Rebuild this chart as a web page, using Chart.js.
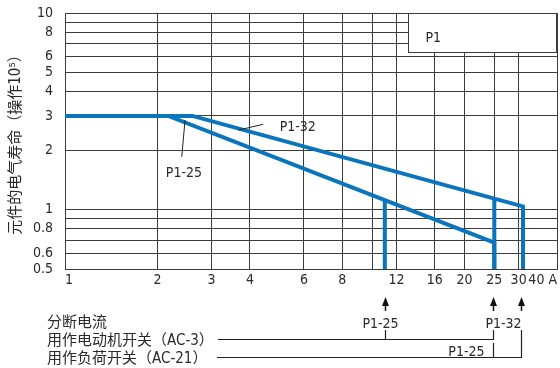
<!DOCTYPE html>
<html>
<head>
<meta charset="utf-8">
<script src="https://cdn.jsdelivr.net/npm/chart.js@4.4.1/dist/chart.umd.min.js"></script>
<style>
  html, body { margin: 0; padding: 0; background: #fff; }
</style>
</head>
<body>
<canvas id="myChart" width="560" height="368"></canvas>
<script>
// axis ticks (log scales)
var xTicks = [1, 2, 3, 4, 6, 8, 10, 12, 16, 20, 25, 30, 40];
var xLabels = ['1', '2', '3', '4', '6', '8', '', '12', '16', '20', '25', '30', '40 A'];
var yTicks = [0.5, 0.6, 0.7, 0.8, 0.9, 1, 2, 3, 4, 5, 6, 7, 8, 9, 10];
var yLabels = ['0.5', '0.6', '', '0.8', '', '1', '2', '3', '4', '5', '6', '', '8', '', '10'];

// current (A) vs electrical life (x10^5 operations)
var p132Current = [1, 2.6, 25, 31, 31];
var p132Life = [3, 3, 1.14, 1.04, 0.5];
var p125Current = [1, 2.17, 11, 25, 25];
var p125Life = [3, 3, 1.12, 0.68, 0.5];
var p125Ac3Current = [11, 11];
var p125Ac3Life = [1.12, 0.5];
var p132Ac3Current = [25, 25];
var p132Ac3Life = [1.14, 0.5];

var
	blue = "#0a74bd",
	gridColor = "#3c3c3c",
	textColor = "#2a2a2a",
	narrow = "'DejaVu Sans Condensed', 'Noto Sans CJK SC', sans-serif";

function pts(xs, ys) {
	return xs.map(function(v, i) { return {x: v, y: ys[i]}; });
}

function lineSet(xs, ys) {
	return {
		data: pts(xs, ys),
		borderColor: blue,
		borderWidth: 4,
		pointRadius: 0,
		borderJoinStyle: 'miter',
		borderCapStyle: 'butt',
		tension: 0,
		fill: false
	};
}

function arrowUp(ctx, px, tip, tail) {
	ctx.beginPath();
	ctx.moveTo(px, tail);
	ctx.lineTo(px, tip + 6);
	ctx.stroke();
	ctx.beginPath();
	ctx.moveTo(px, tip);
	ctx.lineTo(px - 3.5, tip + 9);
	ctx.lineTo(px + 3.5, tip + 9);
	ctx.closePath();
	ctx.fill();
}

var notes = {
	id: 'notes',
	afterDraw: function(chart) {
		var ctx = chart.ctx, sx = chart.scales.x, sy = chart.scales.y, a = chart.chartArea;
		var X = function(v) { return sx.getPixelForValue(v); };
		var Y = function(v) { return sy.getPixelForValue(v); };
		ctx.save();

		// P1 box
		var bl = Math.round(X(13.1)) + 0.5, bb = Math.round(Y(6.35)) + 0.5;
		ctx.fillStyle = '#fff';
		ctx.fillRect(bl, a.top, a.right - bl, bb - a.top);
		ctx.strokeStyle = gridColor;
		ctx.lineWidth = 1;
		ctx.strokeRect(bl, a.top + 0.5, a.right - bl - 0.5, bb - a.top - 0.5);
		ctx.fillStyle = textColor;
		ctx.font = "14px " + narrow;
		ctx.textBaseline = 'alphabetic';
		ctx.fillText('P1', bl + 17, 42);

		// leaders for curve names
		ctx.strokeStyle = '#222';
		ctx.lineWidth = 1;
		ctx.beginPath();
		ctx.moveTo(X(3.67), Y(2.54));
		ctx.lineTo(X(4.42), Y(2.72));
		ctx.moveTo(X(2.46), Y(2.86));
		ctx.lineTo(X(2.40), Y(1.86));
		ctx.stroke();
		ctx.fillText('P1-32', X(5.0), Y(2.51));
		ctx.fillText('P1-25', X(2.13), Y(1.47));

		// breaking current annotations below the axis
		var b = a.bottom;
		var x11 = Math.round(X(11)) + 0.5, x25 = Math.round(X(25)) - 0.5, x30 = Math.round(X(30.5)) + 0.5;
		ctx.fillStyle = '#111';
		ctx.strokeStyle = '#111';
		ctx.lineWidth = 1.5;
		arrowUp(ctx, x11, b + 28, b + 42);
		arrowUp(ctx, x25, b + 28, b + 42);
		arrowUp(ctx, x30, b + 28, b + 42);

		ctx.fillStyle = textColor;
		ctx.textAlign = 'center';
		ctx.fillText('P1-25', x11 - 5, b + 59);
		ctx.fillText('P1-32', (x25 + x30) / 2 - 4, b + 59);
		ctx.textAlign = 'right';
		ctx.fillText('P1-25', x25 - 9, b + 87);

		ctx.textAlign = 'left';
		ctx.font = "15px " + narrow;
		ctx.fillText('分断电流', 47, b + 58);
		ctx.fillText('用作电动机开关（AC-3）', 47, b + 76);
		ctx.fillText('用作负荷开关（AC-21）', 47, b + 94);

		ctx.strokeStyle = '#222';
		ctx.lineWidth = 1.2;
		ctx.beginPath();
		ctx.moveTo(218, b + 70.5);
		ctx.lineTo(x25, b + 70.5);
		ctx.lineTo(x25, b + 61);
		ctx.moveTo(x11, b + 70.5);
		ctx.lineTo(x11, b + 61);
		ctx.moveTo(217, b + 88.5);
		ctx.lineTo(x30, b + 88.5);
		ctx.lineTo(x30, b + 61);
		ctx.moveTo(x25, b + 74);
		ctx.lineTo(x25, b + 88.5);
		ctx.stroke();

		ctx.restore();
	}
};

var ctx = document.getElementById("myChart").getContext('2d');

var myChart = new Chart(ctx, {
	type: 'line',
	data: {
		datasets: [
			lineSet(p132Current, p132Life),
			lineSet(p125Current, p125Life),
			lineSet(p125Ac3Current, p125Ac3Life),
			lineSet(p132Ac3Current, p132Ac3Life)
		]
	},
	options: {
		responsive: false,
		animation: false,
		layout: {
			padding: {top: 13, right: 0, bottom: 0, left: 0}
		},
		plugins: {
			legend: {display: false},
			tooltip: {enabled: false}
		},
		scales: {
			x: {
				type: 'logarithmic',
				min: 1,
				max: 40,
				afterBuildTicks: function(s) {
					s.ticks = xTicks.map(function(v) { return {value: v}; });
				},
				afterFit: function(s) { s.height = 99; },
				grid: {color: gridColor, lineWidth: 1, drawTicks: false},
				border: {color: gridColor, width: 1},
				ticks: {
					autoSkip: false,
					maxRotation: 0,
					minRotation: 0,
					align: 'inner',
					padding: 3,
					color: textColor,
					font: {family: narrow, size: 14},
					callback: function(v, i) { return xLabels[i]; }
				}
			},
			y: {
				type: 'logarithmic',
				min: 0.5,
				max: 10,
				afterBuildTicks: function(s) {
					s.ticks = yTicks.map(function(v) { return {value: v}; });
				},
				afterFit: function(s) { s.width = 65; },
				grid: {color: gridColor, lineWidth: 1, drawTicks: true, tickLength: 9, tickColor: 'rgba(0,0,0,0)'},
				border: {color: gridColor, width: 1},
				title: {
					display: true,
					text: '元件的电气寿命（操作10⁵）',
					color: textColor,
					font: {family: narrow, size: 15},
					padding: {top: 7, bottom: 0}
				},
				ticks: {
					autoSkip: false,
					padding: 3,
					color: textColor,
					font: {family: narrow, size: 14},
					callback: function(v, i) { return yLabels[i]; }
				}
			}
		}
	},
	plugins: [notes]
});
</script>
</body>
</html>
